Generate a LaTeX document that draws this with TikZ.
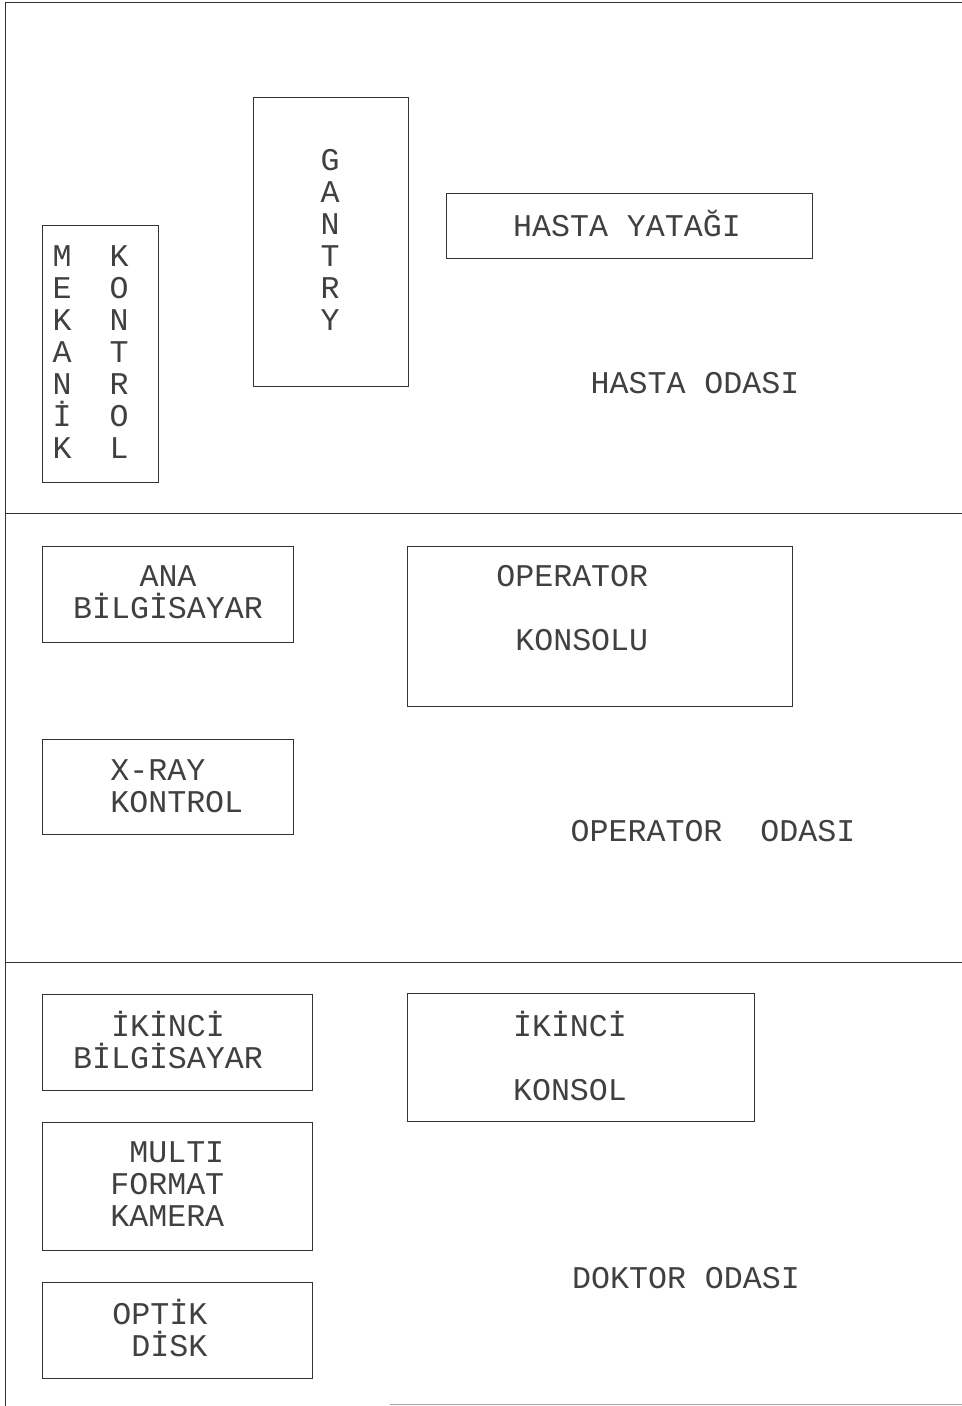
\documentclass[tikz,border=0pt]{standalone}
\usepackage{fontspec}
\setmonofont{Liberation Mono}
\usepackage{tikz}
\usetikzlibrary{positioning}

\begin{document}
\begin{tikzpicture}[x=0.02cm, y=-0.02cm,
  kutu/.style={draw=black!80, line width=.5pt, inner sep=0pt},
  yazi/.style={font=\ttfamily\fontsize{18}{18.2}\selectfont, inner sep=0pt, text=black!75},
  cizgi/.style={draw=black!80, line width=.5pt}]
\useasboundingbox (0,0) rectangle (962,1406);
% oda sinirlari
\coordinate (ust0) at (5,2);
\coordinate (ust1) at (962,2);
\coordinate (alt0) at (5,1406);
\coordinate (b1a) at (5,513);
\coordinate (b1b) at (962,513);
\coordinate (b2a) at (5,962);
\coordinate (b2b) at (962,962);
\coordinate (z0) at (390,1404);
\coordinate (z1) at (962,1404);
\draw[cizgi] (alt0) -- (ust0) -- (ust1);
\draw[cizgi] (b1a) -- (b1b);
\draw[cizgi] (b2a) -- (b2b);
\draw[cizgi, draw=black!35] (z0) -- (z1);
% hasta odasi
\node[kutu, minimum width=2.32cm, minimum height=5.14cm] (mekanik) at (100,353.5) {};
\node[yazi, align=center] (mek) at (62,352) {M\\E\\K\\A\\N\\İ\\K};
\node[yazi, align=center] (kon) at (119,352) {K\\O\\N\\T\\R\\O\\L};
\node[kutu, minimum width=3.10cm, minimum height=5.78cm] (gantry) at (330.5,241.5) {};
\node[yazi, align=center] (gan) at (330,240) {G\\A\\N\\T\\R\\Y};
\node[kutu, minimum width=7.32cm, minimum height=1.30cm] (yatak) at (629,225.5) {};
\node[yazi] (yat) at (627,223) {HASTA YATAĞI};
\node[yazi] (hodasi) at (695,383) {HASTA ODASI};
% operator odasi
\node[kutu, minimum width=5.02cm, minimum height=1.92cm] (anabil) at (167.5,594) {};
\node[yazi, align=center] (ana) at (168,592) {ANA\\BİLGİSAYAR};
\node[kutu, minimum width=7.70cm, minimum height=3.20cm] (opkon) at (599.5,626) {};
\node[yazi, align=left, anchor=west] (opk) at (496,608) {OPERATOR\\[18.2pt]\phantom{O}KONSOLU};
\node[kutu, minimum width=5.02cm, minimum height=1.90cm] (xray) at (167.5,786.5) {};
\node[yazi, align=left, anchor=west] (xr) at (110,786) {X-RAY\\KONTROL};
\node[yazi] (oodasi) at (713,831) {OPERATOR\ \ ODASI};
% doktor odasi
\node[kutu, minimum width=5.40cm, minimum height=1.92cm] (ikbil) at (177,1042) {};
\node[yazi, align=center] (ikb) at (168,1040) {İKİNCİ\\BİLGİSAYAR};
\node[kutu, minimum width=6.94cm, minimum height=2.56cm] (ikkon) at (580.5,1057) {};
\node[yazi, align=center] (ikk) at (570,1056) {İKİNCİ\\[18.2pt]KONSOL};
\node[kutu, minimum width=5.40cm, minimum height=2.56cm] (kamera) at (177,1186) {};
\node[yazi, align=left, anchor=west] (kam) at (110,1184) {\phantom{F}MULTI\\FORMAT\\KAMERA};
\node[kutu, minimum width=5.40cm, minimum height=1.92cm] (disk) at (177,1330) {};
\node[yazi, align=left, anchor=west] (dsk) at (112,1328) {OPTİK\\\phantom{O}DİSK};
\node[yazi] (dodasi) at (686,1278) {DOKTOR ODASI};
\end{tikzpicture}
\end{document}
